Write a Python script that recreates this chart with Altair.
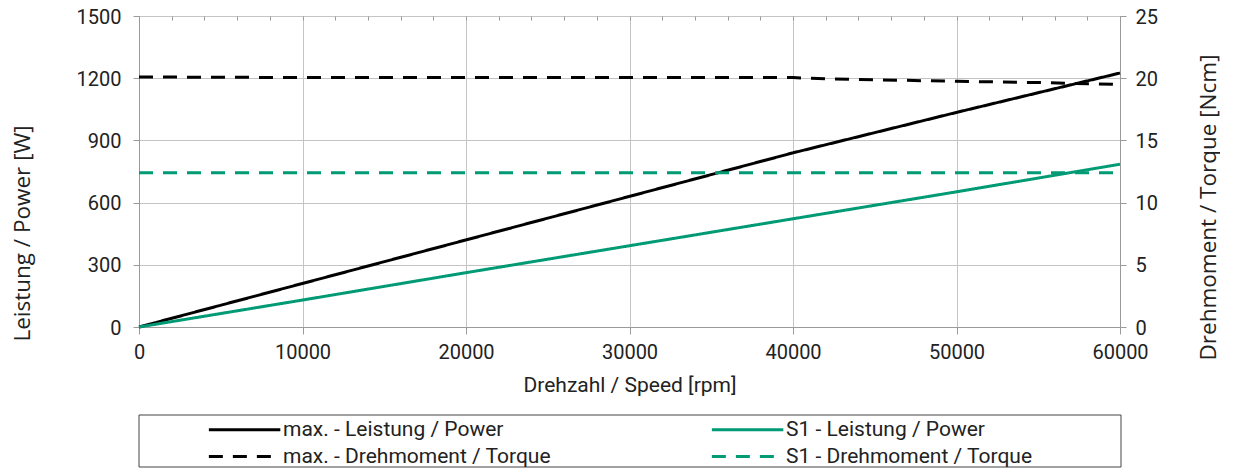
import altair as alt
import pandas as pd

FONT = "Roboto"
TFONT = "Open Sans"

# ---- data ----
speed = [0, 10000, 20000, 30000, 40000, 50000, 60000]
max_power = [0, 210, 420, 630, 840, 1035, 1225]
s1_power = [0, 130, 262, 392, 522, 652, 785]

torque_speed = [0, 10000, 20000, 30000, 40000, 42000, 50000, 55000, 60000]
max_torque = [20.1, 20.05, 20.05, 20.05, 20.05, 19.95, 19.75, 19.65, 19.5]
s1_torque = [12.4, 12.4, 12.4, 12.4, 12.4, 12.4, 12.4, 12.4, 12.4]

# legend order (filled column by column: left column = max., right column = S1)
series_names = [
    "max. - Leistung / Power",
    "max. - Drehmoment / Torque",
    "S1 - Leistung / Power",
    "S1 - Drehmoment / Torque",
]
series_colors = ["#000000", "#000000", "#009a74", "#009a74"]
series_dash = [[1, 0], [14, 10], [1, 0], [14, 10]]

x_ticks = [0, 10000, 20000, 30000, 40000, 50000, 60000]
x_minor = [v for v in range(0, 60001, 2000)]
power_ticks = [0, 300, 600, 900, 1200, 1500]
torque_ticks = [0, 5, 10, 15, 20, 25]

rows_p = []
for s, v in zip(speed, max_power):
    rows_p.append({"speed": s, "value": v, "series": series_names[0]})
for s, v in zip(speed, s1_power):
    rows_p.append({"speed": s, "value": v, "series": series_names[2]})
rows_t = []
for s, v in zip(torque_speed, max_torque):
    rows_t.append({"speed": s, "value": v, "series": series_names[1]})
for s, v in zip(torque_speed, s1_torque):
    rows_t.append({"speed": s, "value": v, "series": series_names[3]})
df_p = pd.DataFrame(rows_p)
df_t = pd.DataFrame(rows_t)

GRID = "#c4c4c4"
AXC = "#9a9a9a"
TXT = "#222222"

xscale = alt.Scale(domain=[0, 60000], nice=False, zero=False)
x_main = alt.X(
    "speed:Q",
    scale=xscale,
    axis=alt.Axis(
        values=x_ticks, title="Drehzahl / Speed [rpm]", format="d",
        grid=True, gridColor=GRID, domainColor=AXC, tickColor=AXC,
        tickSize=7, labelPadding=8, titlePadding=12, labelFlush=False,
        titleFont=FONT, titleFontSize=21,
    ),
)

legend_props = dict(
    orient="none", legendX=118, legendY=401, columns=2, title=None,
    symbolType="M-5.6,0H1", symbolSize=469, symbolStrokeWidth=3,
    labelFontSize=21, labelFont=FONT, labelColor=TXT, labelLimit=500,
    columnPadding=154, rowPadding=4, labelOffset=1, padding=0,
)
color = alt.Color(
    "series:N",
    scale=alt.Scale(domain=series_names, range=series_colors),
    legend=alt.Legend(**legend_props),
)
dash = alt.StrokeDash(
    "series:N",
    scale=alt.Scale(domain=series_names, range=series_dash),
    legend=alt.Legend(**legend_props),
)

power = alt.Chart(df_p).mark_line(strokeWidth=3).encode(
    x=x_main,
    y=alt.Y(
        "value:Q",
        scale=alt.Scale(domain=[0, 1500], nice=False),
        axis=alt.Axis(
            orient="left", values=power_ticks, title="Leistung / Power [W]", format="d",
            grid=True, gridColor=GRID, domainColor=AXC, tickColor=AXC,
            tickSize=6, labelPadding=12, labelOffset=1,
            titleFont=TFONT, titleFontSize=22.5, titleAngle=270,
            titleX=-117, titleY=217, titleAlign="center", titleBaseline="middle",
        ),
    ),
    color=color,
    strokeDash=dash,
)

torque = alt.Chart(df_t).mark_line(strokeWidth=3).encode(
    x=alt.X("speed:Q", scale=xscale, axis=None),
    y=alt.Y(
        "value:Q",
        scale=alt.Scale(domain=[0, 25], nice=False),
        axis=alt.Axis(
            orient="right", values=torque_ticks, title="Drehmoment / Torque [Ncm]",
            grid=False, domainColor=AXC, tickColor=AXC,
            tickSize=6, labelPadding=9, labelOffset=1,
            titleFont=TFONT, titleFontSize=22.5, titleAngle=270,
            titleX=88, titleY=191, titleAlign="center", titleBaseline="middle",
        ),
    ),
    color=color,
    strokeDash=dash,
)

minor = alt.Chart(pd.DataFrame({"speed": x_minor})).mark_point(opacity=0).encode(
    x=alt.X(
        "speed:Q", scale=xscale,
        axis=alt.Axis(
            values=x_minor, labels=False, title=None, grid=False, domain=False,
            tickColor=AXC, tickSize=4, offset=-4,
        ),
    )
)

frame = alt.Chart(pd.DataFrame({"a": [0]})).mark_rect(
    fillOpacity=0, stroke="#444444", strokeWidth=1
).encode(x=alt.value(0), x2=alt.value(982), y=alt.value(399), y2=alt.value(451))

chart = (
    alt.layer(power, torque, minor, frame)
    .resolve_scale(y="independent")
    .resolve_axis(x="independent")
    .properties(
        width=981, height=311, background="white",
        autosize=alt.AutoSizeParams(type="none"),
        padding={"left": 131, "top": 8, "right": 100, "bottom": 146},
    )
    .configure_view(stroke=None)
    .configure_axis(
        labelFont=FONT, labelFontSize=20,
        labelColor=TXT, titleColor=TXT, titleFontWeight="normal",
    )
)

chart.save("out.html", embed_options={"renderer": "svg", "actions": False})
